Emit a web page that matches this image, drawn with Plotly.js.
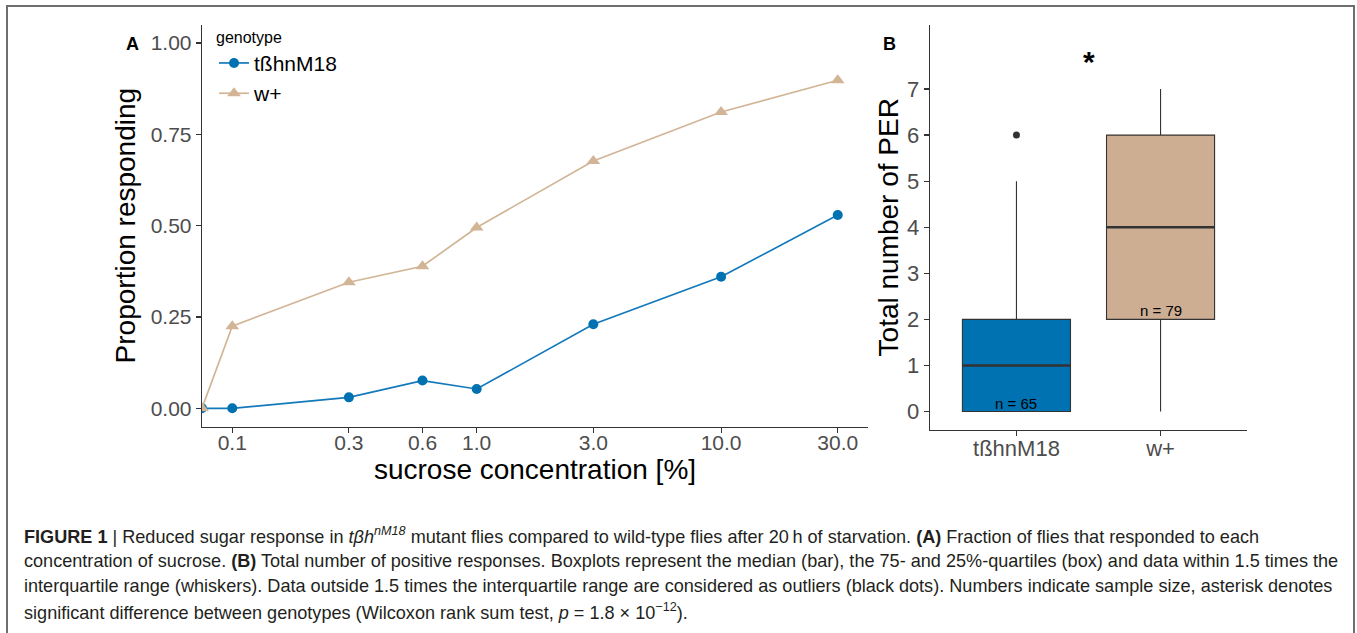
<!DOCTYPE html>
<html>
<head>
<meta charset="utf-8">
<script src="https://cdn.plot.ly/plotly-3.0.1.min.js"></script>
<style>html,body{margin:0;padding:0;background:#fff;}#chart{width:1357px;height:633px;}</style>
</head>
<body>
<div id="chart"></div>
<script>
// ---- Panel A data ----
const concentration = [0, 0.1, 0.3, 0.6, 1.0, 3.0, 10.0, 30.0];
const concTickLabels = ["0.1", "0.3", "0.6", "1.0", "3.0", "10.0", "30.0"];
const genotypes = ["tßhnM18", "w+"];
const propMutant = [0, 0, 0.030, 0.076, 0.053, 0.230, 0.360, 0.529];
const propWild = [0, 0.225, 0.345, 0.389, 0.495, 0.677, 0.811, 0.898];
const propTicks = [0, 0.25, 0.5, 0.75, 1.0];

// ---- Panel B data ----
const boxQ1 = [0, 2];
const boxMedian = [1, 4];
const boxQ3 = [2, 6];
const boxLower = [0, 0];
const boxUpper = [5, 7];
const outlierGroup = [1];
const outlierValue = [6];
const sampleSize = [65, 79];
const perTicks = [0, 1, 2, 3, 4, 5, 6, 7];

const W = 1357, H = 633;
const px = v => v / W;
const py = v => 1 - v / H;

const FONT = "Liberation Sans, Arial, Helvetica, sans-serif";
const blue = "#0072B2", blueLine = "#1479BA", tanLine = "#D2B596", tanFill = "#CDAE93";
const dark = "#333333", tickGrey = "#4d4d4d";

// log axis range (ggplot 5% expansion); zero plotted at the panel edge like -Inf
const positive = concentration.filter(c => c > 0);
const lmin = Math.log10(Math.min(...positive)), lmax = Math.log10(Math.max(...positive));
const lpad = (lmax - lmin) * 0.05;
const xRangeA = [lmin - lpad, lmax + lpad];
const xPlot = concentration.map(c => c > 0 ? c : Math.pow(10, xRangeA[0]));

const traces = [
  {type: "scatter", mode: "lines+markers", name: genotypes[0], x: xPlot, y: propMutant,
   line: {color: blueLine, width: 1.7}, marker: {color: blue, size: 10, symbol: "circle"},
   xaxis: "x", yaxis: "y", hoverinfo: "skip"},
  {type: "scatter", mode: "lines+markers", name: genotypes[1], x: xPlot, y: propWild,
   line: {color: tanLine, width: 1.7}, marker: {color: tanLine, size: 12, symbol: "triangle-up"},
   xaxis: "x", yaxis: "y", hoverinfo: "skip"}
];

const fills = [blue, tanFill];
const shapes = [];
const annotations = [];
for (let i = 0; i < genotypes.length; i++) {
  traces.push({type: "box", x: [i + 1], q1: [boxQ1[i]], median: [boxMedian[i]], q3: [boxQ3[i]],
    lowerfence: [boxLower[i]], upperfence: [boxUpper[i]], width: 0.75, whiskerwidth: 0,
    fillcolor: fills[i], line: {color: dark, width: 1.1}, boxpoints: false,
    xaxis: "x2", yaxis: "y2", showlegend: false, hoverinfo: "skip"});
  shapes.push({type: "line", xref: "x2", yref: "y2", x0: i + 1 - 0.375, x1: i + 1 + 0.375,
    y0: boxMedian[i], y1: boxMedian[i], line: {color: dark, width: 2.4}});
  annotations.push({xref: "x2", yref: "y2", x: i + 1, y: boxQ1[i], yanchor: "bottom", xanchor: "center",
    text: "n = " + sampleSize[i], showarrow: false, yshift: -2,
    font: {family: FONT, size: 15, color: "#000"}});
}
traces.push({type: "scatter", mode: "markers", x: outlierGroup, y: outlierValue,
  marker: {color: dark, size: 7}, xaxis: "x2", yaxis: "y2", showlegend: false, hoverinfo: "skip"});

annotations.push({xref: "x2", yref: "y2", x: 1.5, y: 7.6, text: "<b>*</b>", showarrow: false,
  font: {family: FONT, size: 30, color: "#000"}});
annotations.push({xref: "paper", yref: "paper", x: px(124), y: py(32), text: "<b>A</b>", showarrow: false,
  font: {family: FONT, size: 18, color: "#000"}});
annotations.push({xref: "paper", yref: "paper", x: px(889), y: py(32), text: "<b>B</b>", showarrow: false,
  font: {family: FONT, size: 18, color: "#000"}});

const caption = [
  "<b>FIGURE 1</b> | Reduced sugar response in <i>tβh<sup>nM18</sup></i> mutant flies compared to wild-type flies after 20\u2009h of starvation. <b>(A)</b> Fraction of flies that responded to each",
  "concentration of sucrose. <b>(B)</b> Total number of positive responses. Boxplots represent the median (bar), the 75- and 25%-quartiles (box) and data within 1.5 times the",
  "interquartile range (whiskers). Data outside 1.5 times the interquartile range are considered as outliers (black dots). Numbers indicate sample size, asterisk denotes",
  "significant difference between genotypes (Wilcoxon rank sum test, <i>p</i> = 1.8 × 10<sup>\u221212</sup>)."
];
const capY = [535, 561, 586, 611];
caption.forEach((t, k) => annotations.push({xref: "paper", yref: "paper", x: px(22), y: py(capY[k]),
  xanchor: "left", yanchor: "middle", text: t, showarrow: false, align: "left",
  font: {family: FONT, size: 18.1, color: "#231f20"}}));

// figure frame
shapes.push({type: "rect", xref: "paper", yref: "paper", x0: px(7), x1: px(1354), y0: -0.05, y1: py(6),
  line: {color: "#6e6e6e", width: 2}, fillcolor: "rgba(0,0,0,0)"});

const axisCommon = {showgrid: false, zeroline: false, showline: true, linecolor: dark, linewidth: 1.3,
  ticks: "outside", ticklen: 5, tickwidth: 1.2, tickcolor: dark, automargin: false,
  tickfont: {family: FONT, size: 21, color: tickGrey}};

const layout = {
  width: W, height: H, margin: {l: 0, r: 0, t: 0, b: 0},
  paper_bgcolor: "#fff", plot_bgcolor: "#fff",
  font: {family: FONT},
  showlegend: true,
  legend: {x: px(214), y: py(22), xanchor: "left", yanchor: "top", bgcolor: "rgba(0,0,0,0)",
    title: {text: "genotype", font: {family: FONT, size: 16, color: "#000"}},
    font: {family: FONT, size: 21, color: "#000"}, tracegroupgap: 0},
  xaxis: Object.assign({}, axisCommon, {domain: [px(202), px(868)], type: "log", range: xRangeA,
    tickvals: positive, ticktext: concTickLabels, anchor: "y", ticklabelstandoff: -8,
    title: {text: "sucrose concentration [%]", standoff: 4, font: {family: FONT, size: 28, color: "#000"}}}),
  yaxis: Object.assign({}, axisCommon, {domain: [py(426.6), py(24.7)], range: [-0.05, 1.05],
    tickvals: propTicks, tickformat: ".2f", anchor: "x",
    title: {text: "Proportion responding", standoff: 6, font: {family: FONT, size: 28, color: "#000"}}}),
  xaxis2: Object.assign({}, axisCommon, {domain: [px(930), px(1247)], range: [0.4, 2.6],
    tickvals: [1, 2], ticktext: genotypes, anchor: "y2", ticklabelstandoff: -7,
    tickfont: {family: FONT, size: 22, color: tickGrey}}),
  yaxis2: Object.assign({}, axisCommon, {domain: [py(430), py(24.5)], range: [-0.4, 8.4],
    tickvals: perTicks, anchor: "x2", tickfont: {family: FONT, size: 22, color: tickGrey},
    title: {text: "Total number of PER", standoff: 0, font: {family: FONT, size: 28, color: "#000"}}}),
  shapes: shapes,
  annotations: annotations
};

Plotly.newPlot("chart", traces, layout, {staticPlot: true, displayModeBar: false});
</script>
</body>
</html>
